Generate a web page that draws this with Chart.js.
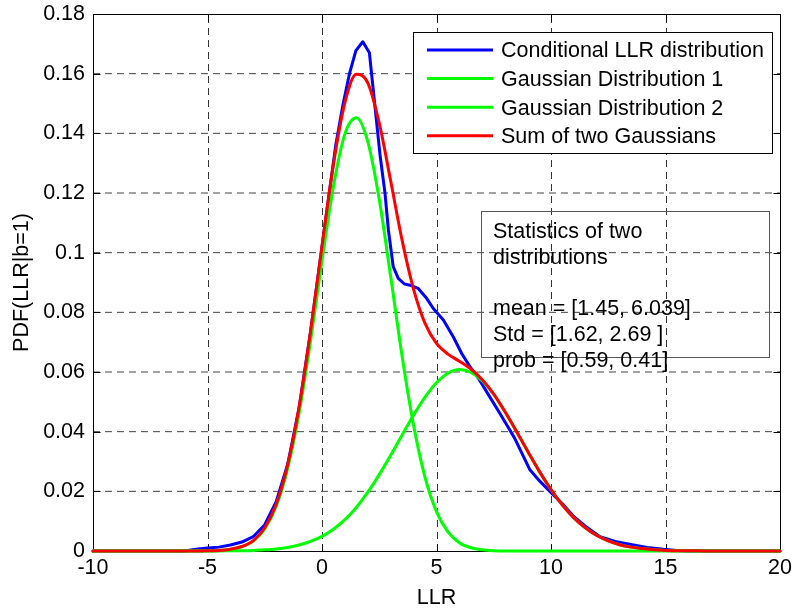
<!DOCTYPE html>
<html><head><meta charset="utf-8">
<script src="https://cdn.jsdelivr.net/npm/chart.js@4/dist/chart.umd.min.js"></script>
<style>html,body{margin:0;padding:0;background:#fff;}</style>
</head><body>
<canvas id="c" width="792" height="614"></canvas>
<script>
// ---- data ----
const xTicks = [-10, -5, 0, 5, 10, 15, 20];
const xTickLabels = ['-10', '-5', '0', '5', '10', '15', '20'];
const yTicks = [0, 0.02, 0.04, 0.06, 0.08, 0.1, 0.12, 0.14, 0.16, 0.18];
const yTickLabels = ['0', '0.02', '0.04', '0.06', '0.08', '0.1', '0.12', '0.14', '0.16', '0.18'];
const seriesNames = ['Conditional LLR distribution', 'Gaussian Distribution 1', 'Gaussian Distribution 2', 'Sum of two Gaussians'];

const blueX = [-10,-6,-5.5,-5,-4.5,-4,-3.5,-3,-2.5,-2,-1.5,-1,-0.5,0,0.3,0.6,0.9,1.2,1.48,1.78,2.07,2.3,2.53,2.75,2.9,3.11,3.33,3.6,3.84,4.2,4.57,4.86,5.3,5.73,6.1,6.46,6.83,7.3,7.77,8.4,9.08,9.5,9.96,10.5,11,11.5,12.14,12.8,13.6,14.2,14.9,15.5,16,20];
const blueY = [0,0,0.0006,0.0010,0.0013,0.0020,0.0030,0.0048,0.0088,0.0165,0.0290,0.0480,0.0735,0.1020,0.1190,0.1360,0.1490,0.1600,0.1677,0.1707,0.1670,0.1500,0.1330,0.1200,0.1076,0.0953,0.0914,0.0895,0.0891,0.0880,0.0847,0.0813,0.0774,0.0718,0.0662,0.0618,0.0579,0.0520,0.0461,0.0380,0.0272,0.0235,0.0199,0.0158,0.0115,0.0083,0.0048,0.0032,0.0020,0.0012,0.0006,0.0002,0,0];

const gaussX = [-10,-6,-5,-4.5,-4,-3.5,-3,-2.5,-2,-1.5,-1,-0.5,0,0.5,1,1.5,2,2.5,3,3.5,4,4.5,5,5.5,6,6.5,7,7.5,8,8.5,9,9.5,10,10.5,11,11.5,12,12.5,13,13.5,14,14.5,15,16,17,20];
const gauss1Y = [0,0,0.0001,0.0002,0.0005,0.0014,0.0033,0.0074,0.0150,0.0277,0.0463,0.0704,0.0973,0.1223,0.1398,0.1452,0.1372,0.1178,0.0919,0.0652,0.0421,0.0247,0.0132,0.0064,0.0028,0.0011,0.0004,0.0001,0,0,0,0,0,0,0,0,0,0,0,0,0,0,0,0,0,0];
const gauss2Y = [0,0,0,0,0.0001,0.0001,0.0002,0.0004,0.0007,0.0012,0.0020,0.0032,0.0049,0.0073,0.0105,0.0146,0.0197,0.0256,0.0321,0.0389,0.0456,0.0516,0.0564,0.0596,0.0608,0.0599,0.0570,0.0525,0.0466,0.0400,0.0332,0.0266,0.0206,0.0154,0.0111,0.0078,0.0052,0.0034,0.0021,0.0013,0.0008,0.0004,0.0002,0.0001,0,0];
const sumY = [0,0,0.0001,0.0002,0.0006,0.0015,0.0035,0.0078,0.0157,0.0289,0.0483,0.0736,0.1022,0.1296,0.1503,0.1598,0.1569,0.1434,0.1240,0.1041,0.0877,0.0763,0.0696,0.0660,0.0636,0.0610,0.0574,0.0526,0.0466,0.0400,0.0332,0.0266,0.0206,0.0154,0.0111,0.0078,0.0052,0.0034,0.0021,0.0013,0.0008,0.0004,0.0002,0.0001,0,0];

const statsLines = ['Statistics of two', 'distributions', '', 'mean = [1.45, 6.039]', 'Std = [1.62, 2.69 ]', 'prob = [0.59, 0.41]'];

// ---- chart ----
const FONT = "'Liberation Sans', Arial, sans-serif";
const FS = 21.5;
Chart.defaults.font.family = FONT;
Chart.defaults.font.size = FS;
Chart.defaults.color = '#000';

const pts = (xs, ys) => xs.map((v, i) => ({x: v, y: ys[i]}));

const frame = {
  id: 'frame',
  beforeDatasetsDraw(chart) {
    const {ctx, chartArea: a, scales: {x, y}} = chart;
    ctx.save();
    ctx.lineWidth = 1;
    ctx.setLineDash([7, 5]);
    ctx.strokeStyle = '#333';
    xTicks.slice(1, -1).forEach(v => {
      const px = Math.round(x.getPixelForValue(v)) + 0.5;
      ctx.beginPath(); ctx.moveTo(px, a.bottom); ctx.lineTo(px, a.top); ctx.stroke();
    });
    ctx.strokeStyle = '#444';
    yTicks.slice(1, -1).forEach(v => {
      const py = y.getPixelForValue(v);
      ctx.beginPath(); ctx.moveTo(a.left, py); ctx.lineTo(a.right, py); ctx.stroke();
    });
    ctx.setLineDash([]);
    ctx.strokeStyle = '#000';
    const L = Math.round(a.left) + 0.5, R = Math.round(a.right) + 0.5, T = Math.round(a.top) + 0.5, B = Math.round(a.bottom) + 0.5;
    ctx.strokeRect(L, T, R - L, B - T);
    const tl = 7;
    xTicks.forEach(v => {
      const px = Math.round(x.getPixelForValue(v)) + 0.5;
      ctx.beginPath(); ctx.moveTo(px, B); ctx.lineTo(px, B - tl); ctx.moveTo(px, T); ctx.lineTo(px, T + tl); ctx.stroke();
    });
    yTicks.forEach(v => {
      const py = Math.round(y.getPixelForValue(v)) + 0.5;
      ctx.beginPath(); ctx.moveTo(L, py); ctx.lineTo(L + tl, py); ctx.moveTo(R, py); ctx.lineTo(R - tl, py); ctx.stroke();
    });
    ctx.restore();
  },
  afterDatasetsDraw(chart) {
    const {ctx, chartArea: a} = chart;
    ctx.save();
    // legend box
    const lx = a.left + 320, ly = a.top + 18, lw = 359, lh = 121;
    ctx.fillStyle = '#fff';
    ctx.fillRect(lx, ly, lw, lh);
    ctx.strokeStyle = '#000'; ctx.lineWidth = 1;
    ctx.strokeRect(lx + 0.5, ly + 0.5, lw, lh);
    ctx.font = FS + 'px ' + FONT;
    ctx.textBaseline = 'middle';
    ctx.textAlign = 'left';
    chart.data.datasets.forEach((ds, i) => {
      const ry = ly + 18 + i * 28.6;
      ctx.strokeStyle = ds.borderColor; ctx.lineWidth = 3;
      ctx.beginPath(); ctx.moveTo(lx + 14, ry); ctx.lineTo(lx + 80, ry); ctx.stroke();
      ctx.fillStyle = '#000';
      ctx.fillText(ds.label, lx + 88, ry + 1.5);
    });
    // statistics text box
    const sx = a.left + 388, sy = a.top + 197, sw = 288, sh = 146;
    ctx.strokeStyle = '#555'; ctx.lineWidth = 1;
    ctx.strokeRect(sx + 0.5, sy + 0.5, sw, sh);
    ctx.fillStyle = '#000';
    statsLines.forEach((t, i) => {
      if (t) ctx.fillText(t, sx + 12, sy + 21 + i * 25.8);
    });
    ctx.restore();
  }
};

new Chart(document.getElementById('c'), {
  type: 'line',
  data: {
    datasets: [
      {label: seriesNames[0], data: pts(blueX, blueY), borderColor: '#0000ff', order: 4},
      {label: seriesNames[1], data: pts(gaussX, gauss1Y), borderColor: '#00ff00', cubicInterpolationMode: 'monotone', order: 3},
      {label: seriesNames[2], data: pts(gaussX, gauss2Y), borderColor: '#00ff00', cubicInterpolationMode: 'monotone', order: 2},
      {label: seriesNames[3], data: pts(gaussX, sumY), borderColor: '#ff0000', cubicInterpolationMode: 'monotone', order: 1}
    ]
  },
  options: {
    responsive: false,
    animation: false,
    layout: {padding: {top: 14, right: 12, left: 0, bottom: 0}},
    elements: {point: {radius: 0}, line: {borderWidth: 3, tension: 0, fill: false, borderCapStyle: 'round', borderJoinStyle: 'round'}},
    datasets: {line: {clip: 5}},
    plugins: {legend: {display: false}, tooltip: {enabled: false}},
    scales: {
      x: {
        type: 'linear', min: -10, max: 20,
        grid: {display: false}, border: {display: false},
        afterBuildTicks: s => { s.ticks = xTicks.map(v => ({value: v})); },
        ticks: {color: '#000', padding: -4, maxRotation: 0, autoSkip: false, callback: (v, i) => xTickLabels[i]},
        title: {display: true, text: 'LLR', color: '#000', padding: {top: 0, bottom: 3}},
        afterFit: s => { s.height = 63; s.paddingLeft = 0; s.paddingRight = 0; }
      },
      y: {
        type: 'linear', min: 0, max: 0.18,
        grid: {display: false, drawTicks: false}, border: {display: false},
        afterBuildTicks: s => { s.ticks = yTicks.map(v => ({value: v})); },
        ticks: {color: '#000', padding: 8, autoSkip: false, callback: (v, i) => yTickLabels[i]},
        title: {display: true, text: 'PDF(LLR|b=1)', color: '#000', padding: {top: 9, bottom: 0}},
        afterFit: s => { s.width = 93; s.paddingTop = 0; s.paddingBottom = 0; }
      }
    }
  },
  plugins: [frame]
});
</script>
</body></html>
